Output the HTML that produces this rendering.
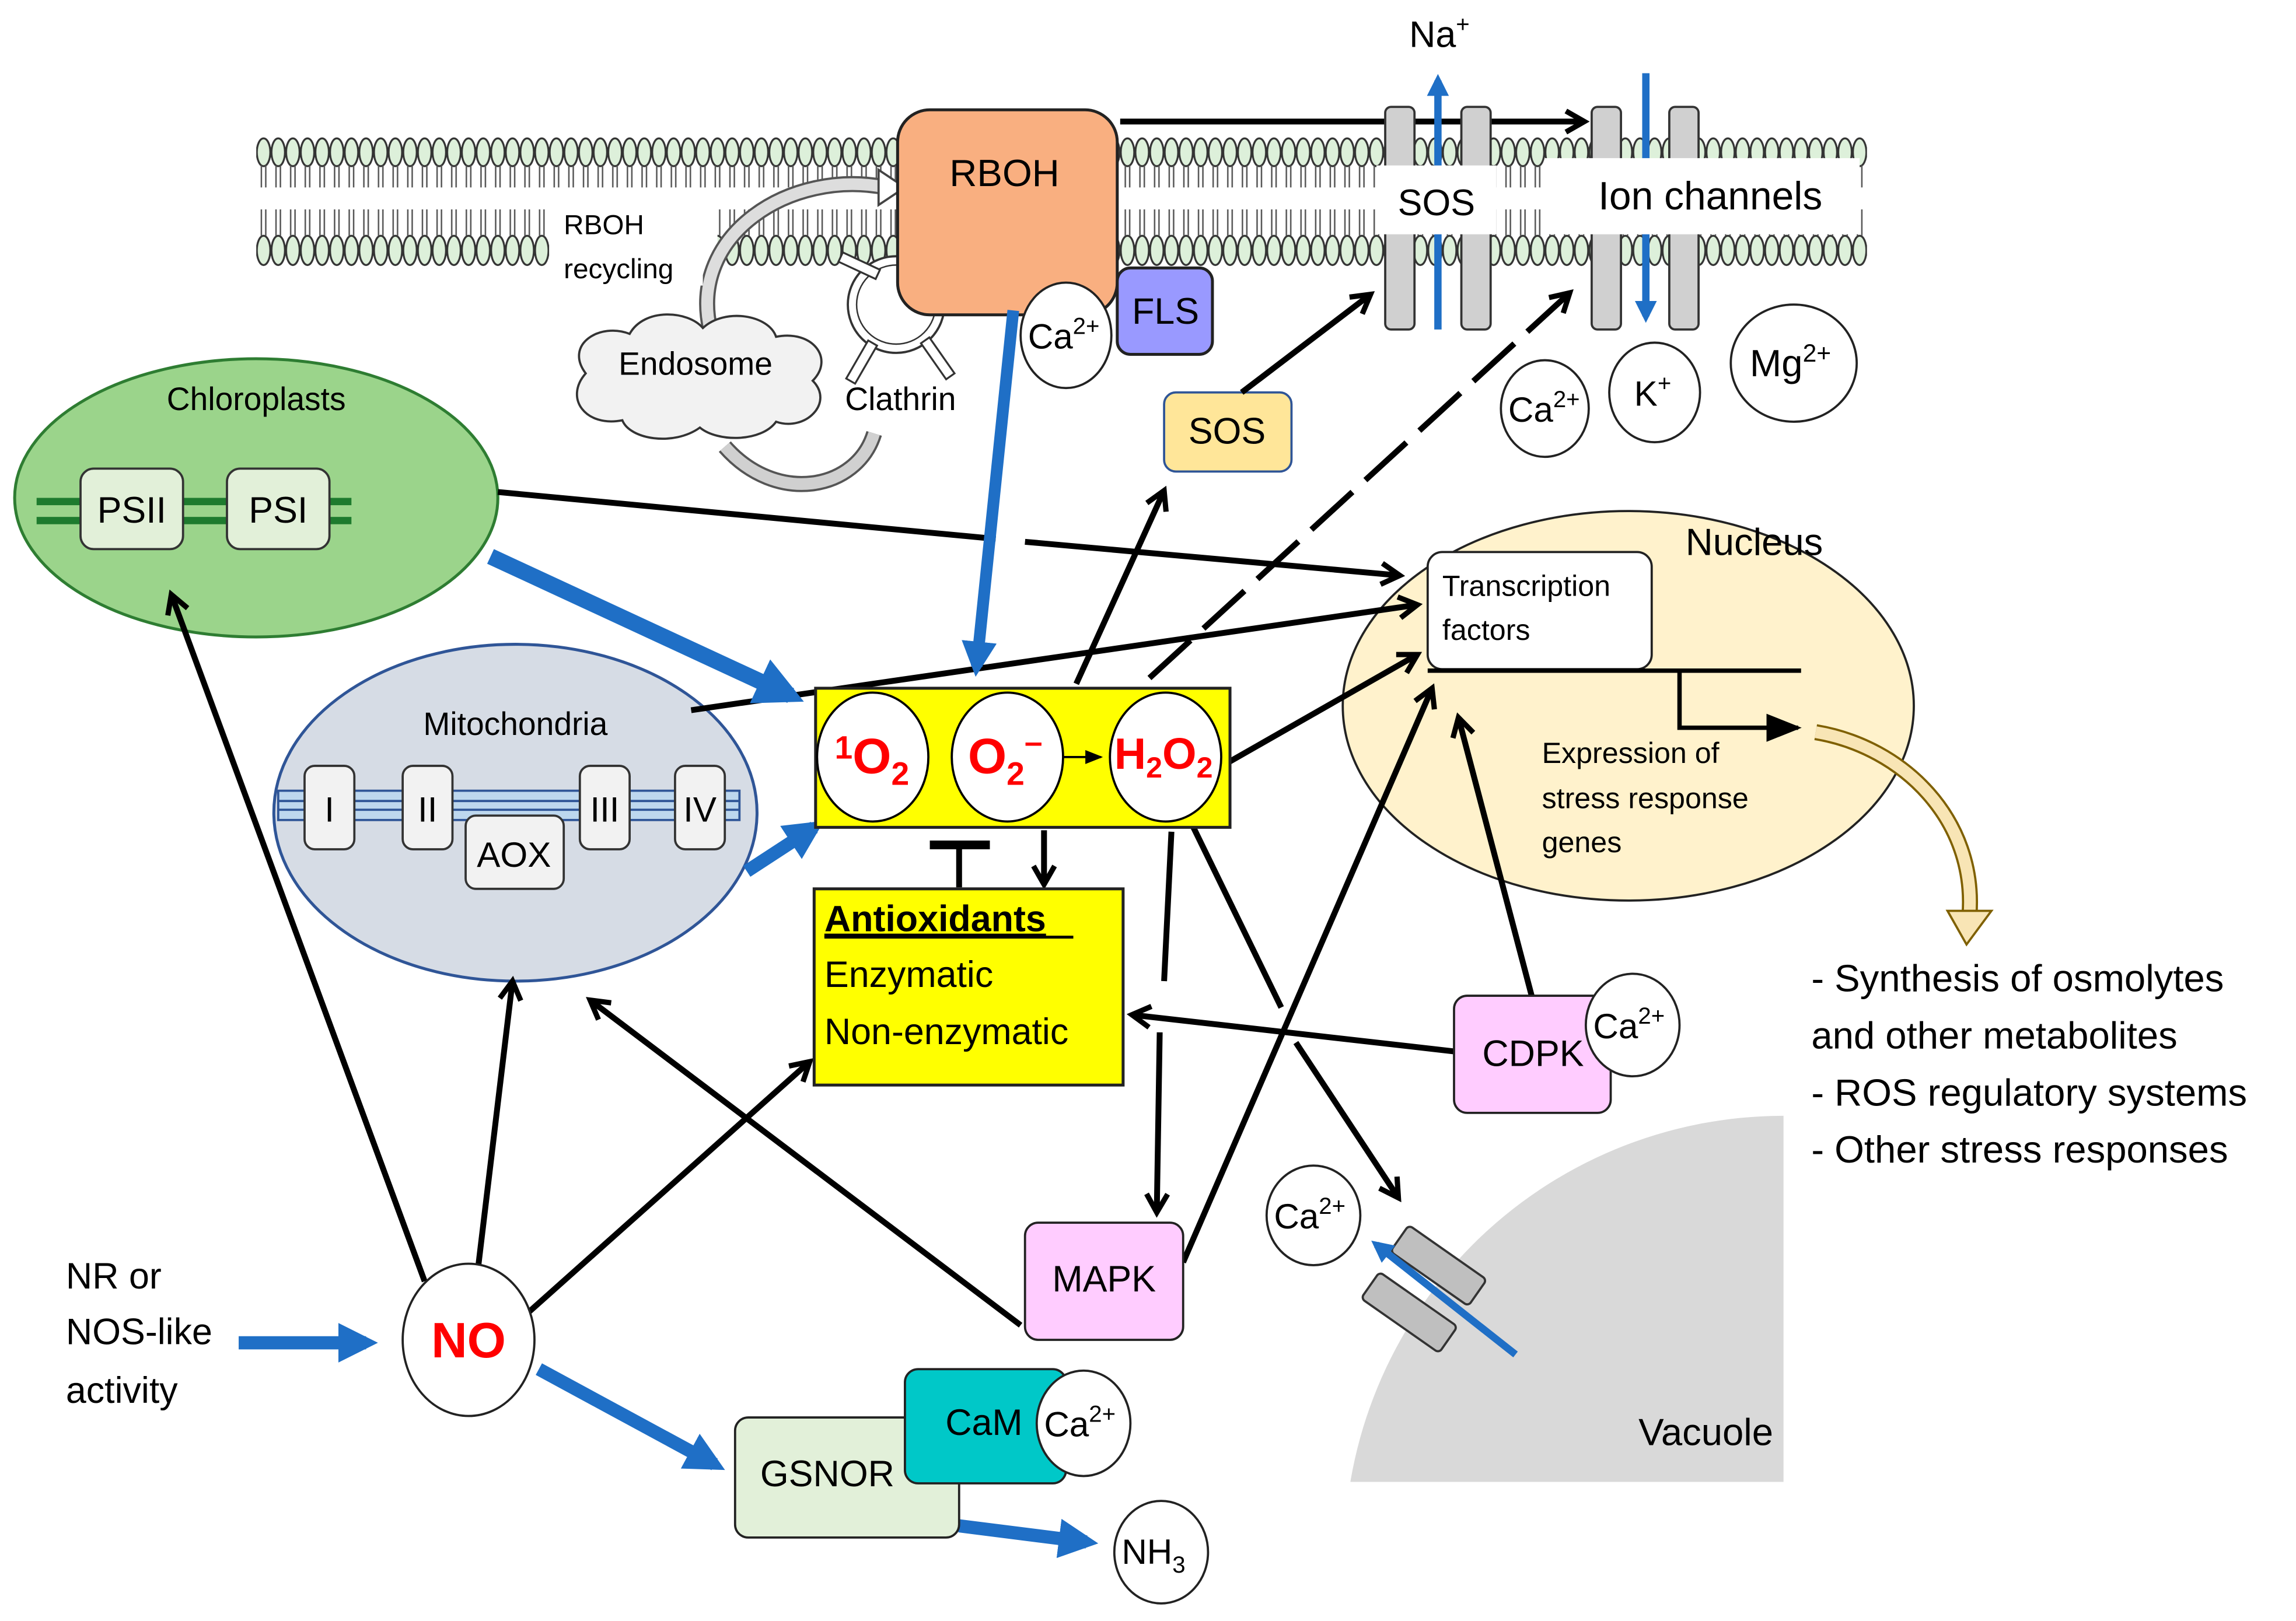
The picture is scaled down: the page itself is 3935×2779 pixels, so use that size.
<!DOCTYPE html>
<html><head><meta charset="utf-8"><style>
html,body{margin:0;padding:0;background:#fff;overflow:hidden;width:3935px;height:2779px;}
svg{display:block;}
text{font-family:"Liberation Sans","DejaVu Sans",sans-serif;}
</style></head><body>
<svg width="3935" height="2779" viewBox="0 0 1568 1107" preserveAspectRatio="none" xmlns="http://www.w3.org/2000/svg">
<defs>
<pattern id="up" x="175" y="93" width="10" height="36" patternUnits="userSpaceOnUse">
<ellipse cx="5" cy="11" rx="4.6" ry="9.5" fill="#DDF0DA" stroke="#333" stroke-width="1.3"/>
<line x1="3.5" y1="20" x2="3.5" y2="35" stroke="#555" stroke-width="1"/>
<line x1="6.5" y1="20" x2="6.5" y2="35" stroke="#555" stroke-width="1"/>
</pattern>
<pattern id="lo" x="175" y="143" width="10" height="40" patternUnits="userSpaceOnUse">
<ellipse cx="5" cy="28" rx="4.6" ry="10" fill="#DDF0DA" stroke="#333" stroke-width="1.3"/>
<line x1="3.5" y1="0" x2="3.5" y2="18" stroke="#555" stroke-width="1"/>
<line x1="6.5" y1="0" x2="6.5" y2="18" stroke="#555" stroke-width="1"/>
</pattern>
<marker id="ah" viewBox="0 0 10 10" refX="8" refY="5" markerWidth="4.5" markerHeight="4.5" orient="auto" markerUnits="strokeWidth">
<path d="M1,1 L8,5 L1,9" fill="none" stroke="#000" stroke-width="2"/>
</marker>
<marker id="bh" viewBox="0 0 10 10" refX="7" refY="5" markerWidth="3" markerHeight="3" orient="auto" markerUnits="strokeWidth">
<path d="M0,0 L10,5 L0,10 z" fill="#1F6FC6"/>
</marker>
<marker id="sh" viewBox="0 0 10 10" refX="9" refY="5" markerWidth="8" markerHeight="8" orient="auto" markerUnits="strokeWidth">
<path d="M0,1 L10,5 L0,9 z" fill="#000"/>
</marker>
<clipPath id="vc"><rect x="900" y="700" width="318" height="312"/></clipPath>
</defs>

<!-- membrane -->
<rect x="175" y="93" width="1100" height="36" fill="url(#up)"/>
<rect x="175" y="143" width="200" height="40" fill="url(#lo)"/>
<rect x="490" y="143" width="125" height="40" fill="url(#lo)"/>
<rect x="760" y="143" width="515" height="40" fill="url(#lo)"/>

<!-- recycling arrows -->
<path d="M485,225 C470,160 540,115 605,128" fill="none" stroke="#555" stroke-width="11"/>
<path d="M485,225 C470,160 540,115 605,128" fill="none" stroke="#ddd" stroke-width="8"/>
<path d="M600,116 L618,128 L600,140 z" fill="#fff" stroke="#444" stroke-width="1.5"/>
<path d="M597,296 C585,335 530,345 495,305" fill="none" stroke="#555" stroke-width="11"/>
<path d="M597,296 C585,335 530,345 495,305" fill="none" stroke="#d0d0d0" stroke-width="8"/>
<rect x="380" y="140" width="100" height="55" fill="#fff"/>
<text x="385" y="160" font-size="19">RBOH</text>
<text x="385" y="190" font-size="19">recycling</text>

<!-- endosome cloud -->
<path d="M400,255 C385,235 410,220 430,228 C440,210 470,212 480,224 C495,210 525,215 530,230 C555,225 570,245 555,260 C570,275 550,295 530,288 C520,302 490,302 478,292 C460,305 430,300 425,287 C400,292 385,272 400,255 z" fill="#F2F2F2" stroke="#333" stroke-width="1.5"/>
<text x="475" y="256" font-size="22" text-anchor="middle">Endosome</text>

<!-- clathrin -->
<circle cx="612" cy="208" r="33" fill="#fff" stroke="#333" stroke-width="1.5"/>
<circle cx="612" cy="208" r="27" fill="none" stroke="#333" stroke-width="1"/>
<g fill="#fff" stroke="#333" stroke-width="1.3">
<rect x="573" y="178" width="28" height="7" transform="rotate(25 587 181)"/>
<rect x="585" y="232" width="7" height="30" transform="rotate(30 588 247)"/>
<rect x="637" y="230" width="7" height="30" transform="rotate(-35 640 245)"/>
</g>
<text x="615" y="280" font-size="22" text-anchor="middle">Clathrin</text>

<!-- RBOH -->
<rect x="613" y="75" width="150" height="140" rx="22" fill="#F9AF80" stroke="#222" stroke-width="2"/>
<text x="686" y="127" font-size="26" text-anchor="middle">RBOH</text>
<rect x="763" y="183" width="65" height="59" rx="9" fill="#9999FF" stroke="#222" stroke-width="2"/>
<text x="796" y="221" font-size="25" text-anchor="middle">FLS</text>
<ellipse cx="728" cy="229" rx="31" ry="36" fill="#fff" stroke="#222" stroke-width="1.5"/>
<text x="702" y="238" font-size="24">Ca<tspan font-size="16" dy="-10">2+</tspan></text>

<!-- top arrow -->
<line x1="765" y1="83" x2="1082" y2="83" stroke="#000" stroke-width="4" marker-end="url(#ah)"/>

<!-- SOS channel -->
<rect x="946" y="73" width="20" height="152" rx="4" fill="#D0D0D0" stroke="#333" stroke-width="1.5"/>
<rect x="998" y="73" width="20" height="152" rx="4" fill="#D0D0D0" stroke="#333" stroke-width="1.5"/>
<line x1="982" y1="225" x2="982" y2="55" stroke="#1F6FC6" stroke-width="5" marker-end="url(#bh)"/>
<rect x="940" y="113" width="82" height="47" fill="#fff"/>
<text x="981" y="147" font-size="25" text-anchor="middle">SOS</text>
<text x="983" y="32" font-size="25" text-anchor="middle">Na<tspan font-size="16" dy="-10">+</tspan></text>

<!-- ion channels -->
<rect x="1087" y="73" width="20" height="152" rx="4" fill="#D0D0D0" stroke="#333" stroke-width="1.5"/>
<rect x="1140" y="73" width="20" height="152" rx="4" fill="#D0D0D0" stroke="#333" stroke-width="1.5"/>
<line x1="1124" y1="50" x2="1124" y2="216" stroke="#1F6FC6" stroke-width="5" marker-end="url(#bh)"/>
<rect x="1055" y="108" width="215" height="52" fill="#fff"/>
<text x="1168" y="143" font-size="27" text-anchor="middle">Ion channels</text>

<!-- ions -->
<ellipse cx="1055" cy="279" rx="30" ry="33" fill="#fff" stroke="#222" stroke-width="1.5"/>
<text x="1030" y="288" font-size="24">Ca<tspan font-size="16" dy="-10">2+</tspan></text>
<ellipse cx="1130" cy="268" rx="31" ry="34" fill="#fff" stroke="#222" stroke-width="1.5"/>
<text x="1116" y="277" font-size="24">K<tspan font-size="16" dy="-10">+</tspan></text>
<ellipse cx="1225" cy="248" rx="43" ry="40" fill="#fff" stroke="#222" stroke-width="1.5"/>
<text x="1195" y="257" font-size="26">Mg<tspan font-size="17" dy="-10">2+</tspan></text>

<!-- SOS box -->
<rect x="795" y="268" width="87" height="54" rx="8" fill="#FFE699" stroke="#2F5597" stroke-width="1.5"/>
<text x="838" y="303" font-size="25" text-anchor="middle">SOS</text>

<!-- chloroplast -->
<ellipse cx="175" cy="340" rx="165" ry="95" fill="#9BD48B" stroke="#2E7D32" stroke-width="2"/>
<text x="175" y="280" font-size="22" text-anchor="middle">Chloroplasts</text>
<rect x="25" y="340" width="215" height="5" fill="#1E7B2E"/>
<rect x="25" y="353" width="215" height="5" fill="#1E7B2E"/>
<rect x="55" y="320" width="70" height="55" rx="9" fill="#E2F0D9" stroke="#333" stroke-width="1.5"/>
<text x="90" y="357" font-size="25" text-anchor="middle">PSII</text>
<rect x="155" y="320" width="70" height="55" rx="9" fill="#E2F0D9" stroke="#333" stroke-width="1.5"/>
<text x="190" y="357" font-size="25" text-anchor="middle">PSI</text>

<!-- mitochondria -->
<ellipse cx="352" cy="555" rx="165" ry="115" fill="#D6DCE5" stroke="#2F5597" stroke-width="2"/>
<text x="352" y="502" font-size="22" text-anchor="middle">Mitochondria</text>
<rect x="190" y="540" width="315" height="20" fill="#BDD7EE" stroke="#2F5597" stroke-width="1.5"/>
<line x1="190" y1="547" x2="505" y2="547" stroke="#2F5597" stroke-width="1.5"/>
<line x1="190" y1="553" x2="505" y2="553" stroke="#2F5597" stroke-width="1.5"/>
<g fill="#F2F2F2" stroke="#333" stroke-width="1.5">
<rect x="208" y="523" width="34" height="57" rx="7"/>
<rect x="275" y="523" width="34" height="57" rx="7"/>
<rect x="396" y="523" width="34" height="57" rx="7"/>
<rect x="461" y="523" width="34" height="57" rx="7"/>
<rect x="318" y="557" width="67" height="50" rx="7"/>
</g>
<g font-size="24" text-anchor="middle">
<text x="225" y="561">I</text><text x="292" y="561">II</text><text x="413" y="561">III</text><text x="478" y="561">IV</text><text x="351" y="592">AOX</text>
</g>

<!-- nucleus -->
<ellipse cx="1112" cy="482" rx="195" ry="133" fill="#FFF2CC" stroke="#222" stroke-width="1.5"/>
<text x="1198" y="379" font-size="26" text-anchor="middle">Nucleus</text>
<rect x="975" y="377" width="153" height="80" rx="10" fill="#fff" stroke="#222" stroke-width="1.5"/>
<text x="985" y="407" font-size="20">Transcription</text>
<text x="985" y="437" font-size="20">factors</text>
<line x1="975" y1="458" x2="1230" y2="458" stroke="#000" stroke-width="3"/>
<polyline points="1147,458 1147,497 1228,497" fill="none" stroke="#000" stroke-width="3" marker-end="url(#sh)"/>
<text x="1053" y="521" font-size="20">Expression of</text>
<text x="1053" y="552" font-size="20">stress response</text>
<text x="1053" y="582" font-size="20">genes</text>

<!-- curved beige arrow -->
<path d="M1240,500 C1300,510 1350,560 1345,625" fill="none" stroke="#7F6000" stroke-width="11"/>
<path d="M1240,500 C1300,510 1350,560 1345,625" fill="none" stroke="#F8E5B5" stroke-width="8"/>
<path d="M1330,622 L1360,622 L1343,645 z" fill="#F8E5B5" stroke="#7F6000" stroke-width="1.5"/>

<g font-size="26">
<text x="1237" y="677">- Synthesis of osmolytes</text>
<text x="1237" y="716">and other metabolites</text>
<text x="1237" y="755">- ROS regulatory systems</text>
<text x="1237" y="794">- Other stress responses</text>
</g>

<!-- vacuole -->
<circle cx="1218" cy="1062" r="300" fill="#D9D9D9" clip-path="url(#vc)"/>
<text x="1165" y="987" font-size="26" text-anchor="middle">Vacuole</text>
<rect x="950" y="853" width="65" height="22" rx="3" fill="#BFBFBF" stroke="#333" stroke-width="1.5" transform="rotate(35 982 864)"/>
<rect x="930" y="885" width="65" height="22" rx="3" fill="#BFBFBF" stroke="#333" stroke-width="1.5" transform="rotate(35 962 896)"/>
<line x1="1035" y1="925" x2="940" y2="850" stroke="#1F6FC6" stroke-width="5" marker-end="url(#bh)"/>
<ellipse cx="897" cy="830" rx="32" ry="34" fill="#fff" stroke="#222" stroke-width="1.5"/>
<text x="870" y="839" font-size="24">Ca<tspan font-size="16" dy="-10">2+</tspan></text>

<!-- black arrows -->
<g stroke="#000" stroke-width="4" fill="none">
<line x1="340" y1="336" x2="680" y2="368"/>
<line x1="700" y1="370" x2="956" y2="393" marker-end="url(#ah)"/>
<line x1="472" y1="485" x2="968" y2="413" marker-end="url(#ah)"/>
<line x1="840" y1="520" x2="968" y2="447" marker-end="url(#ah)"/>
<line x1="735" y1="467" x2="795" y2="335" marker-end="url(#ah)"/>
<line x1="785" y1="463" x2="1072" y2="200" stroke-dasharray="38,12" marker-end="url(#ah)"/>
<line x1="848" y1="268" x2="936" y2="201" marker-end="url(#ah)"/>
<line x1="815" y1="565" x2="875" y2="688"/>
<line x1="885" y1="712" x2="955" y2="818" marker-end="url(#ah)"/>
<line x1="800" y1="568" x2="795" y2="670"/>
<line x1="792" y1="705" x2="790" y2="828" marker-end="url(#ah)"/>
<line x1="713" y1="567" x2="713" y2="604" marker-end="url(#ah)"/>
<line x1="655" y1="606" x2="655" y2="577"/>
<line x1="635" y1="577" x2="676" y2="577" stroke-width="6"/>
<line x1="993" y1="718" x2="773" y2="693" marker-end="url(#ah)"/>
<line x1="1046" y1="680" x2="996" y2="490" marker-end="url(#ah)"/>
<line x1="808" y1="862" x2="978" y2="470" marker-end="url(#ah)"/>
<line x1="697" y1="905" x2="403" y2="683" marker-end="url(#ah)"/>
<line x1="290" y1="875" x2="117" y2="406" marker-end="url(#ah)"/>
<line x1="326" y1="870" x2="350" y2="670" marker-end="url(#ah)"/>
<line x1="360" y1="897" x2="553" y2="725" marker-end="url(#ah)"/>
</g>

<!-- blue arrows -->
<g stroke="#1F6FC6" fill="none">
<line x1="335" y1="380" x2="540" y2="475" stroke-width="11" marker-end="url(#bh)"/>
<line x1="510" y1="595" x2="556" y2="565" stroke-width="9" marker-end="url(#bh)"/>
<line x1="692" y1="212" x2="667" y2="455" stroke-width="8" marker-end="url(#bh)"/>
<line x1="163" y1="917" x2="250" y2="917" stroke-width="9" marker-end="url(#bh)"/>
<line x1="368" y1="935" x2="488" y2="1000" stroke-width="9" marker-end="url(#bh)"/>
<line x1="655" y1="1042" x2="742" y2="1053" stroke-width="9" marker-end="url(#bh)"/>
</g>

<!-- ROS box -->
<rect x="557" y="470" width="283" height="95" fill="#FFFF00" stroke="#222" stroke-width="2"/>
<ellipse cx="596" cy="517" rx="38" ry="44" fill="#fff" stroke="#000" stroke-width="1.5"/>
<ellipse cx="688" cy="517" rx="38" ry="44" fill="#fff" stroke="#000" stroke-width="1.5"/>
<ellipse cx="796" cy="517" rx="38" ry="44" fill="#fff" stroke="#000" stroke-width="1.5"/>
<line x1="726" y1="517" x2="752" y2="517" stroke="#000" stroke-width="1.5" marker-end="url(#sh)"/>
<g fill="#FF0000" font-weight="bold">
<text x="570" y="528" font-size="34"><tspan font-size="22" dy="-10">1</tspan><tspan dy="10">O</tspan><tspan font-size="22" dy="8">2</tspan></text>
<text x="661" y="528" font-size="34">O<tspan font-size="22" dy="8">2</tspan><tspan font-size="22" dy="-22">–</tspan></text>
<text x="761" y="525" font-size="30">H<tspan font-size="20" dy="6">2</tspan><tspan dy="-6">O</tspan><tspan font-size="20" dy="6">2</tspan></text>
</g>

<!-- antioxidants -->
<rect x="556" y="607" width="211" height="134" fill="#FFFF00" stroke="#222" stroke-width="2"/>
<text x="563" y="636" font-size="25" font-weight="bold" text-decoration="underline">Antioxidants</text>
<line x1="563" y1="640" x2="733" y2="640" stroke="#000" stroke-width="2"/>
<text x="563" y="674" font-size="25">Enzymatic</text>
<text x="563" y="713" font-size="25">Non-enzymatic</text>

<!-- CDPK -->
<rect x="993" y="680" width="107" height="80" rx="9" fill="#FFCCFF" stroke="#222" stroke-width="1.5"/>
<text x="1047" y="728" font-size="25" text-anchor="middle">CDPK</text>
<ellipse cx="1115" cy="700" rx="32" ry="35" fill="#fff" stroke="#222" stroke-width="1.5"/>
<text x="1088" y="709" font-size="24">Ca<tspan font-size="16" dy="-10">2+</tspan></text>

<!-- MAPK -->
<rect x="700" y="835" width="108" height="80" rx="9" fill="#FFCCFF" stroke="#222" stroke-width="1.5"/>
<text x="754" y="882" font-size="25" text-anchor="middle">MAPK</text>

<!-- NO -->
<text x="45" y="880" font-size="25">NR or</text>
<text x="45" y="918" font-size="25">NOS-like</text>
<text x="45" y="958" font-size="25">activity</text>
<ellipse cx="320" cy="915" rx="45" ry="52" fill="#fff" stroke="#222" stroke-width="1.5"/>
<text x="320" y="927" font-size="34" font-weight="bold" fill="#FF0000" text-anchor="middle">NO</text>

<!-- GSNOR / CaM -->
<rect x="502" y="968" width="153" height="82" rx="9" fill="#E2F0D9" stroke="#222" stroke-width="1.5"/>
<text x="565" y="1015" font-size="25" text-anchor="middle">GSNOR</text>
<rect x="618" y="935" width="110" height="78" rx="9" fill="#00C8C8" stroke="#222" stroke-width="1.5"/>
<text x="672" y="980" font-size="25" text-anchor="middle">CaM</text>
<ellipse cx="740" cy="972" rx="32" ry="36" fill="#fff" stroke="#222" stroke-width="1.5"/>
<text x="713" y="981" font-size="24">Ca<tspan font-size="16" dy="-10">2+</tspan></text>
<ellipse cx="793" cy="1060" rx="32" ry="35" fill="#fff" stroke="#222" stroke-width="1.5"/>
<text x="766" y="1068" font-size="24">NH<tspan font-size="16" dy="6">3</tspan></text>
</svg>
</body></html>
